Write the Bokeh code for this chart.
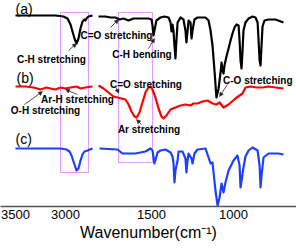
import numpy as np
from bokeh.plotting import figure
from bokeh.models import ColumnDataSource, Range1d, FixedTicker, Arrow, NormalHead, Title
from bokeh.core.properties import value
from bokeh.embed import file_html
from bokeh.resources import INLINE

# ---------------- data (wavenumber, offset transmittance) ----------------
a_left_wn = [3500, 3100, 3020, 2980, 2950, 2930, 2910, 2890, 2870, 2850, 2830, 2810, 2800, 2790, 2770, 2730]
a_left_t = [191, 191, 190, 188, 182, 175, 168, 163, 168, 178, 185, 187, 186, 188, 190, 191]

a_right_wn = [1823, 1781, 1750, 1720, 1695, 1671, 1640, 1610, 1567, 1518, 1500, 1494, 1488, 1482, 1470,
              1445, 1421, 1396, 1384, 1378, 1372, 1366, 1360, 1354, 1348, 1341, 1323, 1305, 1293, 1287,
              1280, 1274, 1262, 1256, 1250, 1238, 1219, 1171, 1152, 1140, 1128, 1116, 1104, 1091, 1079,
              1073, 1067, 1061, 1055, 1043, 1030, 1018, 1006, 994, 982, 969, 963, 957, 951, 945, 939,
              927, 908, 884, 866, 853, 847, 841, 835, 829, 823, 811, 786, 744, 695]
a_right_t = [190, 190, 189, 189, 187, 188, 186, 188, 188, 188, 187, 181, 171, 176, 186,
             189, 190, 189, 184, 175, 182, 176, 161, 148, 166, 184, 189, 187, 176, 164,
             176, 186, 184, 168, 176, 187, 189, 189, 186, 176, 161, 136, 109, 118, 134,
             144, 136, 133, 141, 150, 158, 166, 173, 179, 182, 181, 166, 146, 138, 156, 176,
             184, 188, 190, 189, 184, 166, 146, 141, 161, 180, 186, 187, 187, 184]

b_left_wn = [3500, 3400, 3320, 3250, 3190, 3150, 3100, 3050, 3000, 2950, 2890, 2850, 2800, 2730]
b_left_t = [120, 120, 119, 117, 119, 118, 117, 119, 118, 119, 120, 118, 119, 120]

b_right_wn = [1823, 1793, 1762, 1732, 1707, 1683, 1659, 1640, 1622, 1604, 1591, 1573, 1555, 1537, 1518,
              1506, 1494, 1476, 1457, 1439, 1427, 1409, 1384, 1354, 1323, 1293, 1262, 1244, 1219, 1189,
              1158, 1128, 1104, 1085, 1061, 1030, 988, 945, 927, 896, 860, 823, 786, 744, 695]
b_right_t = [121, 118, 114, 110, 109, 108, 107, 102, 95, 90, 89, 94, 104, 114, 119,
             120, 117, 109, 98, 90, 88, 91, 97, 99, 101, 102, 101, 103, 103, 105,
             106, 103, 102, 104, 99, 102, 108, 113, 119, 120, 119, 119, 120, 119, 118]

c_left_wn = [3500, 3050, 2990, 2960, 2940, 2920, 2900, 2890, 2870, 2850, 2830, 2810, 2780, 2730]
c_left_t = [58, 58, 57, 55, 51, 45, 39, 36, 38, 46, 52, 55, 56, 58]

c_right_wn = [1817, 1707, 1677, 1598, 1537, 1506, 1494, 1482, 1463, 1445, 1415, 1384, 1372, 1366, 1360,
              1354, 1341, 1335, 1311, 1293, 1287, 1280, 1274, 1256, 1250, 1244, 1238, 1219, 1171, 1152,
              1140, 1128, 1110, 1097, 1085, 1073, 1061, 1049, 1030, 1000, 976, 963, 957, 951, 939,
              927, 908, 884, 853, 841, 835, 829, 817, 786, 726, 695]
c_right_t = [58, 57, 53, 53, 55, 58, 56, 43, 54, 56, 57, 54, 50, 44, 24,
             36, 46, 55, 55, 48, 34, 46, 53, 48, 43, 48, 53, 57, 58, 49,
             43, 44, 16, 1, 9, 23, 14, 24, 36, 46, 51, 41, 19, 26, 39,
             50, 56, 59, 56, 41, 19, 31, 49, 53, 53, 52]

tick_wn = [3500, 3000, 1500, 1000]
tick_labels = ["3500", "3000", "1500", "1000"]


# broken wavenumber axis: 3500-2700 and 1830-690 on different scales
def to_u(wn):
    wn = np.asarray(wn, dtype=float)
    return np.where(wn >= 2200, (3500 - wn) * 0.1, 136 + (1500 - wn) * 0.164)


p = figure(width=296, height=250, output_backend="svg", toolbar_location=None,
           x_range=Range1d(-15, 281), y_range=Range1d(0, 206),
           y_axis_location=None, min_border_left=0, min_border_right=0,
           min_border_top=0, min_border_bottom=44)
p.grid.visible = False
p.outline_line_color = None
p.background_fill_color = "white"

FONT = "Liberation Sans"

# highlight boxes (dotted)
box_col = "#cc33ff"
for (w0, w1, b, t) in [(3050, 2770, 34, 194), (1701, 1494, 44, 194)]:
    p.quad(left=float(to_u(w0)), right=float(to_u(w1)), bottom=b, top=t,
           fill_color=None, line_color=box_col, line_dash="1 1", line_width=1)

series = [
    (a_left_wn, a_left_t, "black"), (a_right_wn, a_right_t, "black"),
    (b_left_wn, b_left_t, "#ff0000"), (b_right_wn, b_right_t, "#ff0000"),
    (c_left_wn, c_left_t, "#1f3fff"), (c_right_wn, c_right_t, "#1f3fff"),
]
for wn, t, col in series:
    src = ColumnDataSource(dict(u=to_u(wn), t=t))
    p.line("u", "t", source=src, line_color=col, line_width=2.2, line_join="round")

# trace labels
for txt, x, y in [("(a)", 0, 198), ("(b)", 1, 129), ("(c)", 0, 68)]:
    p.text(x=[x], y=[y], text=[txt], text_font=value(FONT), text_font_size="14px",
           text_baseline="middle", text_align="left", text_color="black")

# band annotations
ann = [
    ("C-H stretching", 36, 147, "center"),
    ("C=O stretching", 101, 171, "center"),
    ("C-H bending", 126.5, 152, "center"),
    ("C=O stretching", 130.5, 122, "center"),
    ("Ar-H stretching", 62, 107, "center"),
    ("O-H stretching", 30, 96, "center"),
    ("Ar stretching", 133.5, 77.5, "center"),
    ("C-O stretching", 277, 126.5, "right"),
]
for txt, x, y, al in ann:
    p.text(x=[x], y=[y], text=[txt], text_font=value(FONT), text_font_size="10px",
           text_font_style="bold", text_baseline="middle", text_align=al, text_color="black")

arrows = [
    (53, 156, 61, 163), (95, 179, 103, 187), (133, 158, 139, 168), (100.7, 118.7, 103.3, 113.3),
    (62, 112, 50, 117), (9, 102, 27, 115), (126, 82, 121, 87), (212, 122, 204, 110),
]
for x0, y0, x1, y1 in arrows:
    p.add_layout(Arrow(x_start=x0, y_start=y0, x_end=x1, y_end=y1, line_width=0.8, line_color="#222",
                       end=NormalHead(size=4, fill_color="#222", line_color="#222", line_width=0.5)))

# x axis
ax = p.xaxis[0]
tick_u = [int(round(float(v))) for v in to_u(tick_wn)]
ax.ticker = FixedTicker(ticks=tick_u)
ax.major_label_overrides = {k: lab for k, lab in zip(tick_u, tick_labels)}
ax.minor_tick_line_color = None
ax.major_tick_line_color = None
ax.major_tick_out = 0
ax.major_tick_in = 0
ax.axis_line_color = "#555555"
ax.axis_line_width = 1.5
ax.major_label_text_font = FONT
ax.major_label_text_font_size = "13px"
ax.major_label_text_color = "black"
ax.major_label_standoff = 3

# axis title as a title panel below the axis
p.add_layout(Title(text="Wavenumber(cm\u207b\u00b9)", align="center", text_font=FONT,
                   text_font_size="16px", text_font_style="normal", text_color="black",
                   standoff=0, offset=0), "below")

open("out.html", "w").write(file_html(p, INLINE))
